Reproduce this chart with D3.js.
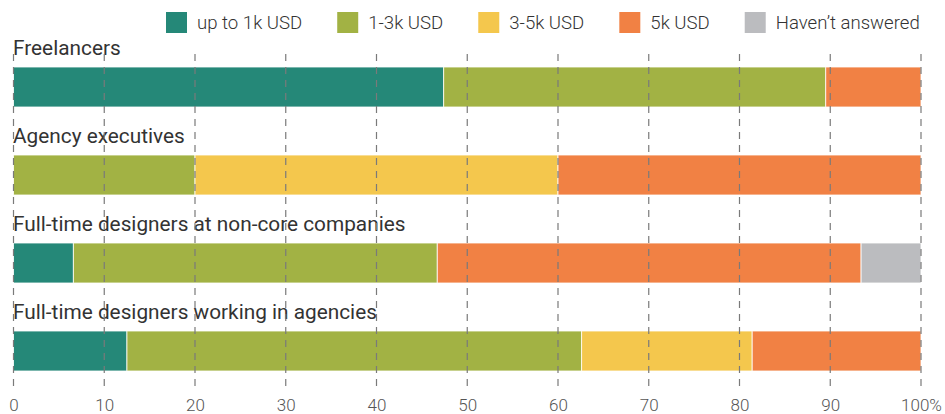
<!DOCTYPE html>
<html>
<head>
<meta charset="utf-8">
<script src="https://cdn.jsdelivr.net/npm/d3@7"></script>
<style>
  html, body { margin: 0; padding: 0; background: #fff; }
  svg { display: block; font-family: Roboto, "Open Sans", sans-serif; }
</style>
</head>
<body>
<svg id="chart" width="945" height="414"></svg>
<script>
// ---- data ----
const categories = [
  "Freelancers",
  "Agency executives",
  "Full-time designers at non-core companies",
  "Full-time designers working in agencies"
];
const seriesNames = ["up to 1k USD", "1-3k USD", "3-5k USD", "5k USD", "Haven\u2019t answered"];
const upTo1k   = [47.4, 0,    6.6, 12.5];
const from1to3 = [42.1, 20,  40.1, 50.1];
const from3to5 = [0,    40,   0,   18.8];
const over5k   = [10.5, 40,  46.7, 18.6];
const noAnswer = [0,    0,    6.6,  0];
const tickValues = [0, 10, 20, 30, 40, 50, 60, 70, 80, 90, 100];
const tickLabels = ["0", "10", "20", "30", "40", "50", "60", "70", "80", "90", "100%"];

// ---- styles ----
const colors = ["#258878", "#a2b244", "#f4c74d", "#f18144", "#bbbcbf"];

const svg = d3.select("#chart");
const x = d3.scaleLinear().domain([0, 100]).range([13.5, 921]);
const y = d3.scaleBand().domain(categories).range([67, 371]).paddingInner(0.5455).paddingOuter(0);

const rows = categories.map((c, i) => ({
  cat: c,
  "s0": upTo1k[i], "s1": from1to3[i], "s2": from3to5[i], "s3": over5k[i], "s4": noAnswer[i]
}));
const keys = ["s0", "s1", "s2", "s3", "s4"];
const stacked = d3.stack().keys(keys)(rows);

// bars
const layers = svg.append("g").selectAll("g").data(stacked).join("g")
  .attr("fill", (d, i) => colors[i]);
layers.selectAll("rect")
  .data(d => d.filter(p => p[1] - p[0] > 0))
  .join("rect")
  .attr("x", d => x(d[0]))
  .attr("y", d => y(d.data.cat))
  .attr("width", d => x(d[1]) - x(d[0]))
  .attr("height", y.bandwidth())
  .attr("stroke", "#ffffff")
  .attr("stroke-opacity", 0.8)
  .attr("stroke-width", 1);

// category labels
svg.append("g").selectAll("text").data(categories).join("text")
  .attr("x", 13)
  .attr("y", d => y(d) - 12.5)
  .attr("font-size", 20.8)
  .attr("font-weight", 400)
  .attr("fill", "#333")
  .text(d => d);

// dashed gridlines (over bars)
svg.append("g").selectAll("line").data(tickValues).join("line")
  .attr("x1", d => x(d)).attr("x2", d => x(d))
  .attr("y1", 54).attr("y2", 388)
  .attr("stroke", "#7a7a7a")
  .attr("stroke-width", 1.2)
  .attr("stroke-dasharray", "7,6");

// axis labels
const axis = d3.axisBottom(x).tickValues(tickValues)
  .tickFormat((d, i) => tickLabels[i]).tickSize(0).tickPadding(0);
const axG = svg.append("g").attr("transform", "translate(0,396)").call(axis);
axG.select(".domain").remove();
axG.selectAll("text")
  .attr("dy", 0).attr("y", 14.5)
  .attr("font-family", "Roboto, sans-serif")
  .attr("font-size", 17)
  .attr("font-weight", 300)
  .attr("fill", "#555");

// legend
const leg = svg.append("g");
let lx = 166;
seriesNames.forEach((name, i) => {
  leg.append("rect").attr("x", lx).attr("y", 12).attr("width", 21).attr("height", 21)
    .attr("fill", colors[i]);
  const t = leg.append("text").attr("x", lx + 31).attr("y", 28.5)
    .attr("font-size", 18.6).attr("font-weight", 300).attr("fill", "#333").text(name);
  lx += 31 + t.node().getComputedTextLength() + 35;
});
</script>
</body>
</html>
